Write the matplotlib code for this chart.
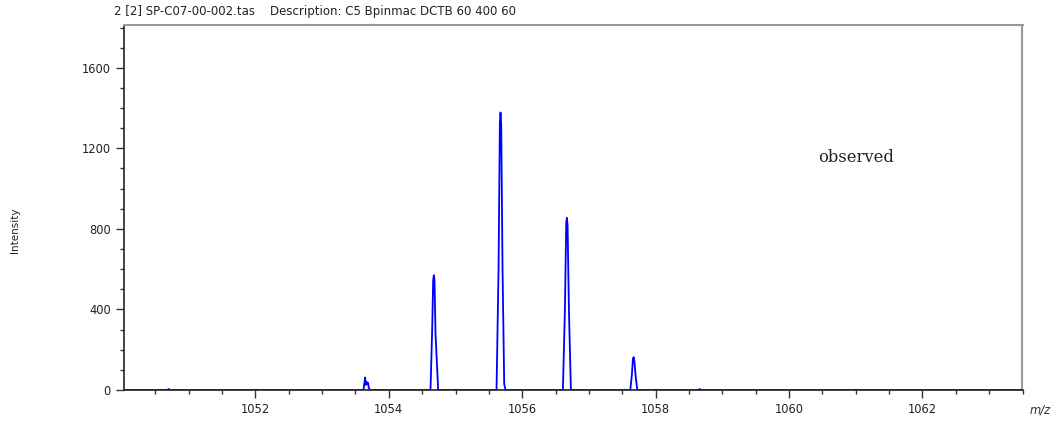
import matplotlib
matplotlib.use("Agg")
import matplotlib.pyplot as plt
from matplotlib.ticker import MultipleLocator

# Spectrum profile (m/z, intensity)
mz = [1050.03, 1050.68, 1050.70, 1050.72,
      1053.62, 1053.645, 1053.655, 1053.67, 1053.68, 1053.69, 1053.70, 1053.72,
      1054.625, 1054.65, 1054.665, 1054.675, 1054.685, 1054.70, 1054.74,
      1055.615, 1055.645, 1055.665, 1055.675, 1055.685, 1055.705, 1055.73, 1055.75,
      1056.61, 1056.64, 1056.66, 1056.67, 1056.68, 1056.70, 1056.73,
      1057.62, 1057.645, 1057.66, 1057.67, 1057.68, 1057.70, 1057.725,
      1058.64, 1058.66, 1058.68, 1063.5]
intensity = [0, 0, 5, 0,
             0, 62, 25, 40, 30, 35, 10, 0,
             0, 300, 545, 570, 545, 280, 0,
             0, 600, 1330, 1378, 1320, 600, 30, 0,
             0, 400, 830, 855, 820, 400, 0,
             0, 80, 155, 163, 150, 70, 0,
             0, 5, 0, 0]

title_text = "2 [2] SP-C07-00-002.tas    Description: C5 Bpinmac DCTB 60 400 60"
annotation = "observed"
x_range = (1050.03, 1063.5)
y_range = (0, 1815)

sans = ["DejaVu Sans"]

fig = plt.figure(figsize=(10.6, 4.26), dpi=100)
ax = fig.add_axes([124/1060, 36/426, (1022.5-124)/1060, (390-24.5)/426])

ax.plot(mz, intensity, color="#0000ff", lw=1.3)
ax.set_xlim(*x_range)
ax.set_ylim(*y_range)

ax.xaxis.set_major_locator(MultipleLocator(2))
ax.xaxis.set_minor_locator(MultipleLocator(0.5))
ax.yaxis.set_major_locator(MultipleLocator(400))
ax.yaxis.set_minor_locator(MultipleLocator(100))

ax.tick_params(which="major", direction="out", length=5.5, width=1.0, labelsize=8.3, pad=4, color="#333333")
ax.tick_params(which="minor", direction="out", length=3, width=1.0, color="#333333")
for lab in ax.get_xticklabels() + ax.get_yticklabels():
    lab.set_fontfamily(sans)
    lab.set_color("#222222")

for s in ["left", "bottom"]:
    ax.spines[s].set_color("#222222")
    ax.spines[s].set_linewidth(1.2)
for s in ["top", "right"]:
    ax.spines[s].set_color("#999999")
    ax.spines[s].set_linewidth(1.5)

fig.text(114/1060, 1 - 11/426, title_text, fontsize=8.5, family=sans, va="center", ha="left", color="#222222")
fig.text(15/1060, 1 - 230/426, "Intensity", fontsize=7.5, family=sans, rotation=90, va="center", ha="center", color="#222222")
fig.text(1040/1060, 1 - 410/426, "m/z", fontsize=8.3, family=sans, style="italic", va="center", ha="center", color="#333333")
ax.text(1061.0, 1153, annotation, fontsize=11.8, family="DejaVu Serif", va="center", ha="center", color="#222222")

fig.savefig("out.png", dpi=100)
